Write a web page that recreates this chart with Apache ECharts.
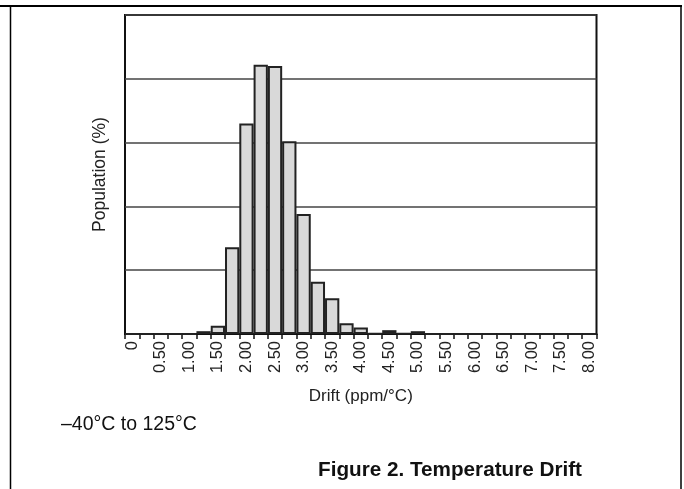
<!DOCTYPE html>
<html>
<head>
<meta charset="utf-8">
<script src="https://cdn.jsdelivr.net/npm/echarts@6/dist/echarts.min.js"></script>
<style>
html,body{margin:0;padding:0;background:#fff;}
#c{width:684px;height:489px;}
</style>
</head>
<body>
<div id="c"></div>
<script>
// Bin categories (ppm/°C), one per 0.25 step
var categories = ['0','0.25','0.50','0.75','1.00','1.25','1.50','1.75','2.00','2.25','2.50','2.75','3.00','3.25','3.50','3.75','4.00','4.25','4.50','4.75','5.00','5.25','5.50','5.75','6.00','6.25','6.50','6.75','7.00','7.25','7.50','7.75','8.00'];
// Population (%) per bin
var population = [0,0,0,0,0,0.22,0.65,6.8,16.5,21.1,21.0,15.1,9.4,4.1,2.8,0.84,0.5,0.04,0.3,0.03,0.22,0,0,0,0,0,0,0,0,0,0,0,0];
var yTicks = [0,5,10,15,20,25];

var chart = echarts.init(document.getElementById('c'), null, {renderer:'canvas'});
var FONT = 'Liberation Sans, Arial, sans-serif';
chart.setOption({
  animation:false,
  backgroundColor:'#fff',
  grid:{left:125,top:15,width:471.5,height:319,show:true,borderColor:'#111',borderWidth:2,backgroundColor:'transparent',containLabel:false},
  xAxis:{
    type:'category',
    data:categories,
    boundaryGap:true,
    name:'Drift (ppm/°C)',
    nameLocation:'middle',
    nameGap:54,
    nameTextStyle:{fontFamily:FONT,fontSize:17,color:'#222'},
    axisLine:{show:true,lineStyle:{color:'#111',width:2}},
    axisTick:{show:true,interval:0,length:5,inside:false,lineStyle:{color:'#111',width:1.5}},
    axisLabel:{interval:1,rotate:90,margin:7,fontFamily:FONT,fontSize:16.5,color:'#222'},
    splitLine:{show:false}
  },
  yAxis:{
    type:'value',
    min:yTicks[0],
    max:yTicks[yTicks.length-1],
    interval:5,
    name:'Population (%)',
    nameLocation:'middle',
    nameGap:16,
    nameTextStyle:{fontFamily:FONT,fontSize:17.5,color:'#222'},
    axisLine:{show:false},
    axisTick:{show:false},
    axisLabel:{show:false},
    splitLine:{show:true,lineStyle:{color:'#444',width:1.5}}
  },
  series:[{
    type:'bar',
    data:population,
    barCategoryGap:'0%',
    itemStyle:{color:'#d9d9d9',borderColor:'#222',borderWidth:2},
    emphasis:{disabled:true}
  }],
  graphic:[
    {type:'line',shape:{x1:0,y1:6,x2:682,y2:6},style:{stroke:'#000',lineWidth:2},silent:true},
    {type:'line',shape:{x1:10.5,y1:6,x2:10.5,y2:489},style:{stroke:'#000',lineWidth:1.5},silent:true},
    {type:'line',shape:{x1:681,y1:6,x2:681,y2:489},style:{stroke:'#000',lineWidth:1.5},silent:true},
    {type:'text',left:61,top:415,style:{text:'–40°C to 125°C',font:'19.5px '+FONT,fill:'#111'}},
    {type:'text',left:318,top:460,style:{text:'Figure 2. Temperature Drift',font:'bold 20.7px '+FONT,fill:'#111'}}
  ]
});
</script>
</body>
</html>
